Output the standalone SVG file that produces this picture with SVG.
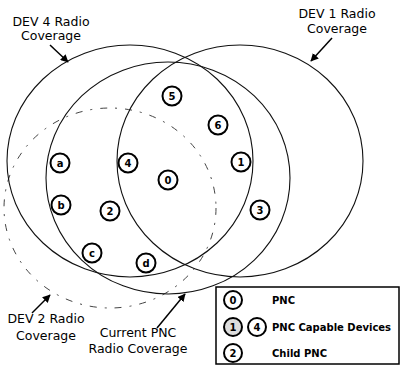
<svg xmlns="http://www.w3.org/2000/svg" width="401" height="366" viewBox="0 0 401 366">
<defs>
<marker id="ah" viewBox="0 0 10 10" refX="9" refY="5" markerWidth="8" markerHeight="8" markerUnits="userSpaceOnUse" orient="auto">
<path d="M0,0 L10,5 L0,10 z" fill="#000"/>
</marker>
<style>
.cov{fill:none;stroke:#111;stroke-width:1.1}
.dash{fill:none;stroke:#444;stroke-width:1;stroke-dasharray:7 8 2 8}
.arr{stroke:#000;stroke-width:1.5;fill:none;marker-end:url(#ah)}
.lbl{font-family:"DejaVu Sans",Verdana,sans-serif;font-size:12.5px;fill:#000;text-anchor:middle}
.nd circle{fill:#fff;stroke:#000;stroke-width:2}
.nd text{font-family:"DejaVu Sans",Verdana,sans-serif;font-size:10px;font-weight:bold;text-anchor:middle;fill:#000}
.leg{font-family:"DejaVu Sans",Verdana,sans-serif;font-size:10px;font-weight:bold;fill:#000}
</style>
</defs>
<rect width="401" height="366" fill="#fff"/>
<g id="coverage">
<ellipse id="dev2-cov" class="dash" cx="110" cy="208" rx="106" ry="100"/>
<ellipse id="dev4-cov" class="cov" cx="130" cy="161" rx="123" ry="116"/>
<ellipse id="pnc-cov" class="cov" cx="168" cy="178" rx="122" ry="116"/>
<ellipse id="dev1-cov" class="cov" cx="240" cy="161" rx="123" ry="116"/>
</g>
<g id="connectors">
<line class="arr" x1="50" y1="45" x2="68" y2="62"/>
<line class="arr" x1="332" y1="38" x2="311" y2="61"/>
<line class="arr" x1="32" y1="313" x2="50" y2="295"/>
<line class="arr" x1="157" y1="328" x2="185" y2="294"/>
</g>
<g id="labels">
<text class="lbl" x="51" y="26">DEV 4 Radio</text>
<text class="lbl" x="51" y="40">Coverage</text>
<text class="lbl" x="337" y="18">DEV 1 Radio</text>
<text class="lbl" x="337" y="33">Coverage</text>
<text class="lbl" x="46" y="323">DEV 2 Radio</text>
<text class="lbl" x="46" y="340">Coverage</text>
<text class="lbl" x="138" y="337">Current PNC</text>
<text class="lbl" x="138" y="353">Radio Coverage</text>
</g>
<g id="node-5" class="nd"><circle cx="172" cy="96" r="9.5"/><text x="172" y="99.5">5</text></g>
<g id="node-6" class="nd"><circle cx="218" cy="125" r="9.5"/><text x="218" y="128.5">6</text></g>
<g id="node-1" class="nd"><circle cx="241" cy="162" r="9.5"/><text x="241" y="165.5">1</text></g>
<g id="node-3" class="nd"><circle cx="260" cy="210" r="9.5"/><text x="260" y="213.5">3</text></g>
<g id="node-a" class="nd"><circle cx="60" cy="163" r="9.5"/><text x="60" y="166.5">a</text></g>
<g id="node-4" class="nd"><circle cx="128" cy="163" r="9.5"/><text x="128" y="166.5">4</text></g>
<g id="node-0" class="nd"><circle cx="168" cy="180" r="9.5"/><text x="168" y="183.5">0</text></g>
<g id="node-b" class="nd"><circle cx="61" cy="205" r="9.5"/><text x="61" y="208.5">b</text></g>
<g id="node-2" class="nd"><circle cx="110" cy="211" r="9.5"/><text x="110" y="214.5">2</text></g>
<g id="node-c" class="nd"><circle cx="92" cy="253" r="9.5"/><text x="92" y="256.5">c</text></g>
<g id="node-d" class="nd"><circle cx="146" cy="263" r="9.5"/><text x="146" y="266.5">d</text></g>
<g id="legend">
<rect x="216" y="287" width="183" height="77" fill="#fff" stroke="#000" stroke-width="1.5"/>
<g id="leg-0" class="nd"><circle cx="233" cy="300" r="9"/><text x="233" y="303.5">0</text></g>
<text class="leg" x="272" y="303.5">PNC</text>
<g id="leg-1" class="nd"><circle cx="233" cy="327" r="9" style="fill:#ddd"/><text x="233" y="330.5">1</text></g>
<g id="leg-4" class="nd"><circle cx="257" cy="327" r="9"/><text x="257" y="330.5">4</text></g>
<text class="leg" x="272" y="330.5">PNC Capable Devices</text>
<g id="leg-2" class="nd"><circle cx="233" cy="353" r="9"/><text x="233" y="356.5">2</text></g>
<text class="leg" x="272" y="356.5">Child PNC</text>
</g>
</svg>
